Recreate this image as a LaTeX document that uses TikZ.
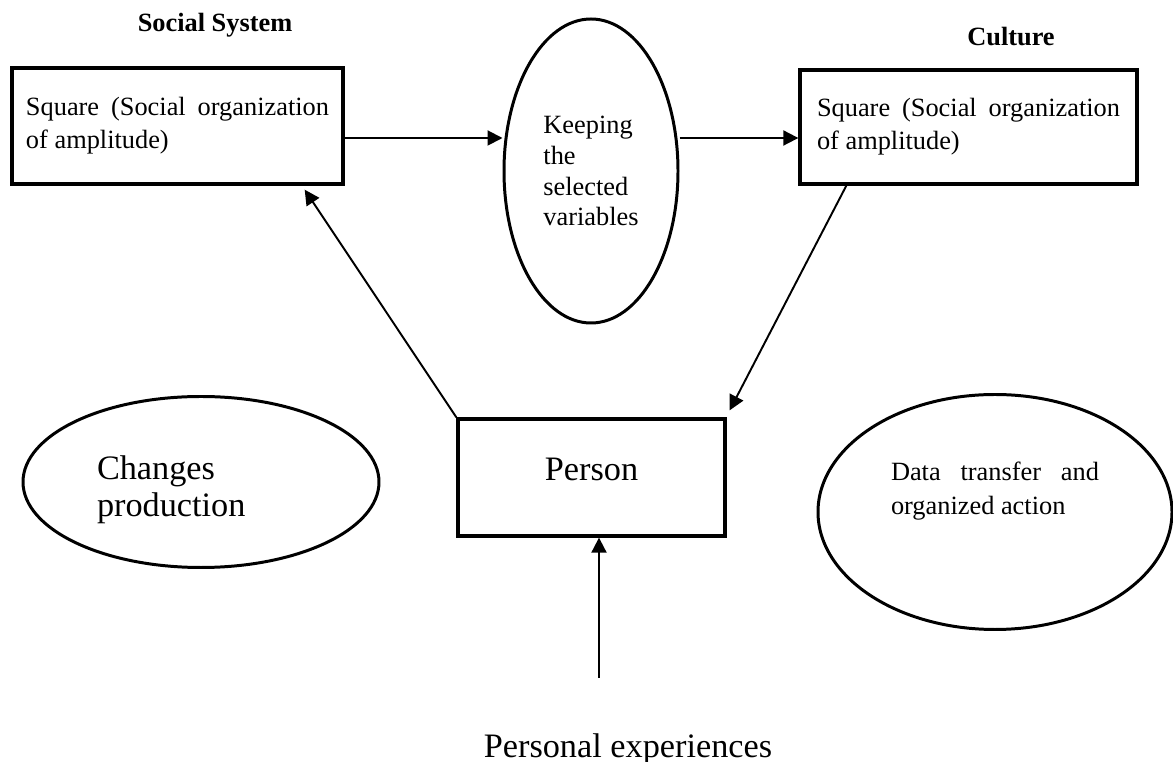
\documentclass[tikz,border=0pt]{standalone}
\usepackage{fontspec}
\setmainfont{Liberation Serif}
\usetikzlibrary{shapes.geometric,arrows.meta,positioning}
\tikzset{
	oval/.style={
		ellipse,
		draw,
		line width=1.7pt,
		inner sep=0pt
	}
}

\begin{document}
\begin{tikzpicture}
	\tikzstyle{box}=[rectangle, draw=black, line width=1.9pt]
	\tikzstyle{main}=[box, text width=6.06cm, align=justify, font=\fontsize{15}{18.7}\selectfont]
	\tikzstyle{head}=[font=\fontsize{15}{18}\selectfont\bfseries, inner sep=0pt]
	\tikzstyle{big}=[font=\fontsize{19.5}{21}\selectfont]
	\tikzstyle{connect}=[line width=1.1pt, -{Triangle[length=0.3cm,width=0.3cm]}]
	\useasboundingbox (0,0) rectangle (23.46,15.24);

	\node[head] (sshead) at (4.3,14.73) {Social System};
	\node[head] (culhead) at (20.22,14.51) {Culture};

	\node[main, minimum width=6.62cm, minimum height=2.32cm] (social) at (3.55,12.72) {Square (Social organization of amplitude)};
	\node[main, minimum width=6.74cm, minimum height=2.28cm] (culture) at (19.37,12.70) {Square (Social organization of amplitude)};
	\node[oval, minimum width=3.48cm, minimum height=6.08cm, align=left, font=\fontsize{15}{17.6}\selectfont] (keep) at (11.82,11.82) {Keeping\\the\\selected\\variables};

	\node[box, big, minimum width=5.34cm, minimum height=2.34cm, text depth=0.34cm] (person) at (11.83,5.69) {Person};
	\node[oval, minimum width=7.12cm, minimum height=3.42cm] (changes) at (4.02,5.6) {};
	\node[big, text width=4.16cm, align=left, inner sep=0pt] (chtxt) at ([yshift=-0.16cm]changes.center) {Changes\\production};
	\node[oval, minimum width=7.08cm, minimum height=4.7cm] (data) at (19.9,5.0) {};
	\node[text width=4.16cm, align=justify, inner sep=0pt, font=\fontsize{15}{19.8}\selectfont] (datatxt) at ([yshift=0.42cm]data.center) {Data transfer and organized action};

	\coordinate (exp) at (11.98,1.68);
	\node[big, inner sep=0pt] (exptxt) at (12.56,0.26) {Personal experiences};

	% arrows
	\draw[connect] ([yshift=-0.24cm]social.east) -- ([yshift=-0.24cm]social.east -| keep.west);
	\draw[connect] ([yshift=-0.22cm]culture.west -| keep.east) -- ([yshift=-0.22cm]culture.west);
	\draw[connect] (person.north west) -- ([xshift=-0.8cm,yshift=-0.08cm]social.south east);
	\draw[connect] ([xshift=0.96cm]culture.south west) -- ([xshift=0.06cm,yshift=0.14cm]person.north east);
	\draw[connect] (exp) -- (exp |- person.south);
\end{tikzpicture}
\end{document}
